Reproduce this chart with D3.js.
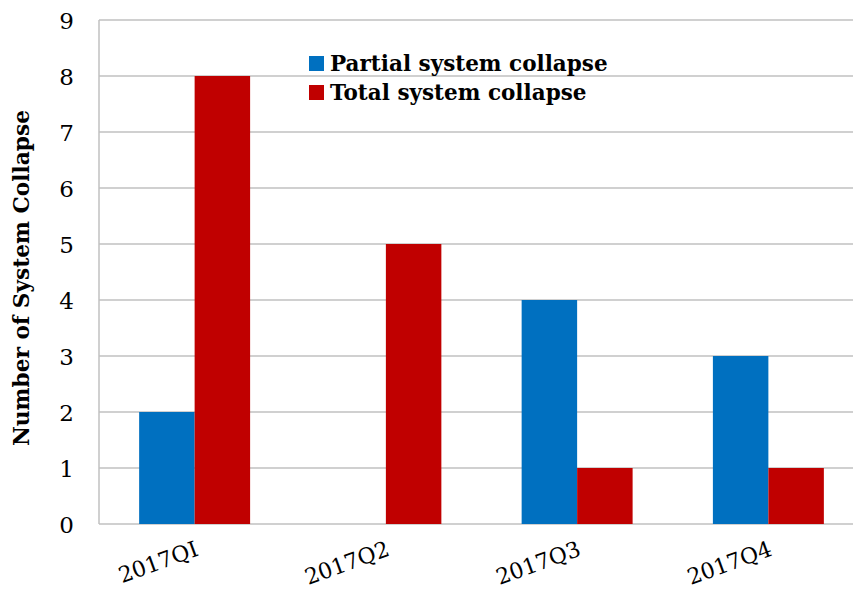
<!DOCTYPE html>
<html>
<head>
<meta charset="utf-8">
<script src="https://cdn.jsdelivr.net/npm/d3@7"></script>
<style>
  html, body { margin: 0; padding: 0; background: #fff; }
  svg { display: block; }
  text { font-family: "DejaVu Serif", "Liberation Serif", serif; fill: #000; }
</style>
</head>
<body>
<svg id="chart" width="853" height="590"></svg>
<script>
// Quarterly counts of system collapse events
const quarters = ["2017QI", "2017Q2", "2017Q3", "2017Q4"];
const seriesNames = ["Partial system collapse", "Total system collapse"];
const partial = [2, 0, 4, 3];
const total = [8, 5, 1, 1];
const yTicks = [0, 1, 2, 3, 4, 5, 6, 7, 8, 9];
const colors = ["#0070C0", "#C00000"];

const svg = d3.select("#chart");
const margin = { left: 99, right: -11, top: 20, bottom: 66 };
const W = 853, H = 590;

const x = d3.scaleBand()
  .domain(quarters)
  .range([margin.left, W - margin.right])
  .paddingInner(0)
  .paddingOuter(0);

const y = d3.scaleLinear()
  .domain([0, 9])
  .range([H - margin.bottom, margin.top]);

const inner = d3.scaleBand()
  .domain(seriesNames)
  .range([0, x.bandwidth()])
  .paddingOuter(0.7235)
  .paddingInner(0);

// Horizontal gridlines
svg.append("g")
  .selectAll("line")
  .data(yTicks)
  .join("line")
  .attr("x1", margin.left)
  .attr("x2", W - margin.right)
  .attr("y1", d => y(d))
  .attr("y2", d => y(d))
  .attr("stroke", "#c0c0c0")
  .attr("stroke-width", 1.5);

// Left axis line
svg.append("line")
  .attr("x1", margin.left).attr("x2", margin.left)
  .attr("y1", y(0)).attr("y2", y(9))
  .attr("stroke", "#c0c0c0")
  .attr("stroke-width", 1.5);

// Bars
const rows = quarters.map((q, i) => ({ q, vals: [partial[i], total[i]] }));
svg.append("g")
  .selectAll("g")
  .data(rows)
  .join("g")
  .attr("transform", d => `translate(${x(d.q)},0)`)
  .selectAll("rect")
  .data(d => d.vals.map((v, j) => ({ name: seriesNames[j], v, j })))
  .join("rect")
  .attr("x", d => inner(d.name))
  .attr("width", inner.bandwidth())
  .attr("y", d => y(d.v))
  .attr("height", d => y(0) - y(d.v))
  .attr("fill", d => colors[d.j]);

// Y axis tick labels
const yAxis = d3.axisLeft(y).tickValues(yTicks).tickSize(0).tickPadding(25);
const yg = svg.append("g")
  .attr("transform", `translate(${margin.left},0)`)
  .call(yAxis);
yg.select(".domain").remove();
yg.selectAll("text")
  .style("font-family", "'DejaVu Serif', serif")
  .style("font-size", "23px")
  .attr("dy", "0.36em");

// X axis labels, rotated
const xAxis = d3.axisBottom(x).tickSize(0).tickPadding(0);
const xg = svg.append("g")
  .attr("transform", `translate(0,${y(0)})`)
  .call(xAxis);
xg.select(".domain").remove();
xg.selectAll("text")
  .style("font-family", "'DejaVu Serif', serif")
  .style("font-size", "22px")
  .attr("text-anchor", "end")
  .attr("y", 0)
  .attr("dy", 0)
  .attr("transform", "translate(5,31) rotate(-20)");

// Y axis title
svg.append("text")
  .attr("transform", `translate(29,${(y(0) + y(9)) / 2 + 6}) rotate(-90)`)
  .attr("text-anchor", "middle")
  .style("font-size", "21.7px")
  .style("font-weight", "bold")
  .text("Number of System Collapse");

// Legend
const legend = svg.append("g").attr("transform", "translate(309,56)");
const li = legend.selectAll("g")
  .data(seriesNames)
  .join("g")
  .attr("transform", (d, i) => `translate(0,${i * 29})`);
li.append("rect")
  .attr("width", 15).attr("height", 15)
  .attr("fill", (d, i) => colors[i]);
li.append("text")
  .attr("x", 21)
  .attr("y", 15)
  .style("font-size", "21.5px")
  .style("font-weight", "bold")
  .text(d => d);
</script>
</body>
</html>
